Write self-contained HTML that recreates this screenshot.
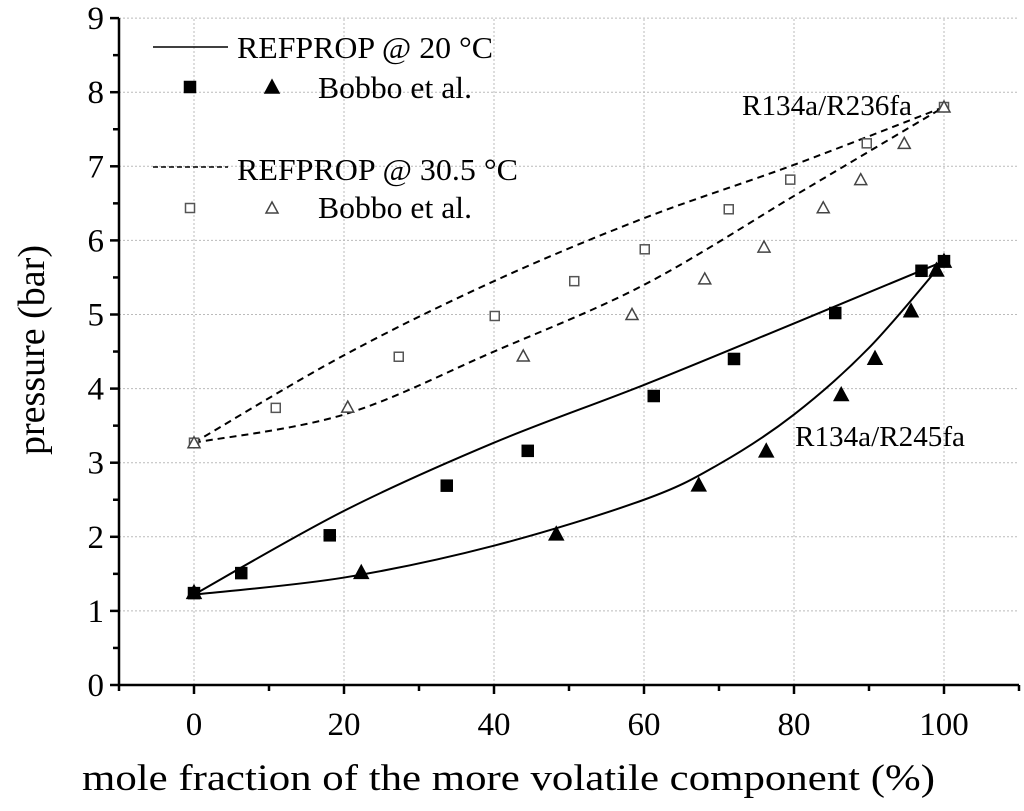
<!DOCTYPE html>
<html><head><meta charset="utf-8"><style>
body{margin:0;background:#fff}
svg{display:block;font-family:"Liberation Serif",serif}
</style></head><body>
<svg id="c" width="1024" height="811"></svg>
<script>
const xTicks=[0,20,40,60,80,100];
const yTicks=[0,1,2,3,4,5,6,7,8,9];
const sq20X=[0,6.3,18.1,33.7,44.5,61.3,72,85.5,97,100];
const sq20Y=[1.24,1.51,2.02,2.69,3.16,3.90,4.40,5.02,5.59,5.72];
const tr20X=[0,22.3,48.3,67.3,76.3,86.3,90.8,95.6,99,100];
const tr20Y=[1.25,1.52,2.04,2.70,3.16,3.92,4.41,5.05,5.60,5.72];
const sq30X=[0,10.9,27.3,40.1,50.7,60.1,71.3,79.5,89.7,100];
const sq30Y=[3.27,3.74,4.43,4.98,5.45,5.88,6.42,6.82,7.31,7.80];
const tr30X=[0,20.5,43.9,58.4,68.1,76,83.9,88.9,94.7,100];
const tr30Y=[3.27,3.75,4.44,5.0,5.48,5.91,6.44,6.82,7.31,7.80];
const bub20X=[0,20,40,60,80,100];
const bub20Y=[1.22,2.35,3.27,4.05,4.88,5.72];
const dew20X=[0,20,40,60,70,80,90,100];
const dew20Y=[1.22,1.45,1.88,2.5,2.98,3.65,4.55,5.72];
const bub30X=[0,20,40,60,80,100];
const bub30Y=[3.27,4.45,5.45,6.3,7.02,7.8];
const dew30X=[0,20,40,60,80,90,100];
const dew30Y=[3.27,3.65,4.5,5.4,6.6,7.2,7.8];

const NS="http://www.w3.org/2000/svg";
const svg=document.getElementById('c');
const X=v=>194+v*7.5, Y=v=>685-v*74.1;
function el(t,a,txt){const e=document.createElementNS(NS,t);for(const k in a)e.setAttribute(k,a[k]);if(txt!==undefined)e.textContent=txt;svg.appendChild(e);return e;}
for(const t of xTicks){const g=el('line',{x1:X(t),x2:X(t),y1:Y(0),y2:Y(9),stroke:'#bbb','stroke-dasharray':'2,2'});

}
for(const t of yTicks){if(t===0)continue;const g=el('line',{x1:X(-10),x2:X(110),y1:Y(t),y2:Y(t),stroke:'#bbb','stroke-dasharray':'2,2'});

}
let a=el('line',{x1:X(-10),x2:X(-10),y1:Y(0)+1,y2:Y(9),stroke:'#000','stroke-width':2.5});


a=el('line',{x1:X(-10)-1,x2:X(110),y1:Y(0),y2:Y(0),stroke:'#000','stroke-width':2.5});


for(let v=-10;v<=110;v+=10){const major=xTicks.includes(v);el('line',{x1:X(v),x2:X(v),y1:Y(0),y2:Y(0)+(major?9:6),stroke:'#000','stroke-width':2.5});}
for(let v=0;v<=9;v+=0.5){const major=Number.isInteger(v);el('line',{x1:X(-10),x2:X(-10)-(major?9:6),y1:Y(v),y2:Y(v),stroke:'#000','stroke-width':2.5});}
for(const t of xTicks){const l=el('text',{x:X(t),y:735,'font-size':33,'text-anchor':'middle'},t);

}
for(const t of yTicks){const l=el('text',{x:104,y:Y(t)+11,'font-size':33,'text-anchor':'end'},t);

}
let t=el('text',{x:82,y:790,'font-size':37,textLength:853,lengthAdjust:'spacingAndGlyphs','xml:space':'preserve'},'mole fraction of the more volatile component  (%)');


t=el('text',{x:0,y:0,'font-size':38,'text-anchor':'middle',transform:'translate(44,350) rotate(-90)'},'pressure (bar)');


function curve(xs,ys,dash,name){const p=xs.map((x,i)=>[X(x),Y(ys[i])]);let d='M'+p[0];
for(let i=0;i<p.length-1;i++){const p0=p[i-1]||p[i],p1=p[i],p2=p[i+1],p3=p[i+2]||p2;
const c1=[p1[0]+(p2[0]-p0[0])/6,p1[1]+(p2[1]-p0[1])/6],c2=[p2[0]-(p3[0]-p1[0])/6,p2[1]-(p3[1]-p1[1])/6];
d+='C'+c1+' '+c2+' '+p2;}
const e=el('path',{d,fill:'none',stroke:'#000','stroke-width':2,'stroke-dasharray':dash?'7,5':'none'});

}
curve(bub20X,bub20Y,false,'bubble-curve-20c');
curve(dew20X,dew20Y,false,'dew-curve-20c');
curve(bub30X,bub30Y,true,'bubble-curve-30c');
curve(dew30X,dew30Y,true,'dew-curve-30c');
function sq(x,y,open){const s=open?9:11;return el('rect',{x:x-s/2,y:y-s/2,width:s,height:s,fill:open?'#fff':'#000',stroke:open?'#555':'#000','stroke-width':1.5});}
function tri(x,y,open){const s=open?6:7;return el('polygon',{points:`${x},${y-s} ${x-s},${y+s-1} ${x+s},${y+s-1}`,fill:open?'#fff':'#000',stroke:open?'#444':'#000','stroke-width':1.5});}
sq30X.forEach((x,i)=>{const m=sq(X(x),Y(sq30Y[i]),true);

});
tr30X.forEach((x,i)=>{const m=tri(X(x),Y(tr30Y[i]),true);

});
sq20X.forEach((x,i)=>{const m=sq(X(x),Y(sq20Y[i]),false);

});
tr20X.forEach((x,i)=>{const m=tri(X(x),Y(tr20Y[i]),false);

});
let l=el('line',{x1:153,x2:228,y1:47,y2:47,stroke:'#000','stroke-width':1.5});


t=el('text',{x:237,y:58,'font-size':31,textLength:256,lengthAdjust:'spacingAndGlyphs'},'REFPROP @ 20 °C');


sq(190,87,false);tri(272,87,false);
t=el('text',{x:318,y:98,'font-size':31,textLength:154,lengthAdjust:'spacingAndGlyphs'},'Bobbo et al.');


l=el('line',{x1:153,x2:228,y1:167,y2:167,stroke:'#000','stroke-width':1.5,'stroke-dasharray':'5,3'});


t=el('text',{x:237,y:180,'font-size':31,textLength:281,lengthAdjust:'spacingAndGlyphs'},'REFPROP @ 30.5 °C');


sq(190,208,true);tri(272,208,true);
t=el('text',{x:318,y:218,'font-size':31,textLength:154,lengthAdjust:'spacingAndGlyphs'},'Bobbo et al.');


t=el('text',{x:742,y:115,'font-size':29,textLength:170,lengthAdjust:'spacingAndGlyphs'},'R134a/R236fa');


t=el('text',{x:795,y:446,'font-size':29,textLength:170,lengthAdjust:'spacingAndGlyphs'},'R134a/R245fa');


</script>
</body></html>
